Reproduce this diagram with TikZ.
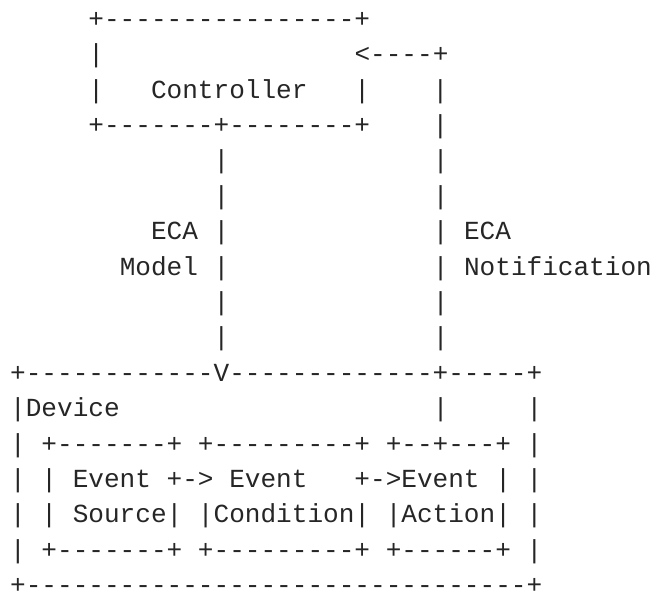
\documentclass[tikz,border=0pt]{standalone}
\usepackage{fontspec}
\setmonofont{Liberation Mono}
\definecolor{inkgray}{RGB}{38,38,38}
\begin{document}
\begin{tikzpicture}[x=0.5pt, y=-0.5pt,
  ln/.style={anchor=base west, inner sep=0pt, outer sep=0pt, text=inkgray,
    font=\ttfamily\fontsize{13.04pt}{17.8pt}\selectfont}]
\useasboundingbox (0,0) rectangle (652,594);
\node[ln] (ln1) at (88.45,27.2){+----------------+};
\node[ln] (ln2) at (88.45,62.6){|~~~~~~~~~~~~~~~~<----+};
\node[ln] (ln3) at (88.45,98.0){|~~~Controller~~~|~~~~|};
\node[ln] (ln4) at (88.45,133.4){+-------+--------+~~~~|};
\node[ln] (ln5) at (213.65,168.8){|~~~~~~~~~~~~~|};
\node[ln] (ln6) at (213.65,204.2){|~~~~~~~~~~~~~|};
\node[ln] (ln7) at (151.05,239.6){ECA~|~~~~~~~~~~~~~|~ECA};
\node[ln] (ln8) at (119.75,275.0){Model~|~~~~~~~~~~~~~|~Notification};
\node[ln] (ln9) at (213.65,310.4){|~~~~~~~~~~~~~|};
\node[ln] (ln10) at (213.65,345.8){|~~~~~~~~~~~~~|};
\node[ln] (ln11) at (10.2,381.2){+------------V-------------+-----+};
\node[ln] (ln12) at (10.2,416.6){|Device~~~~~~~~~~~~~~~~~~~~|~~~~~|};
\node[ln] (ln13) at (10.2,452.0){|~+-------+~+---------+~+--+---+~|};
\node[ln] (ln14) at (10.2,487.4){|~|~Event~+->~Event~~~+->Event~|~|};
\node[ln] (ln15) at (10.2,522.8){|~|~Source|~|Condition|~|Action|~|};
\node[ln] (ln16) at (10.2,558.2){|~+-------+~+---------+~+------+~|};
\node[ln] (ln17) at (10.2,593.6){+--------------------------------+};
\end{tikzpicture}
\end{document}
